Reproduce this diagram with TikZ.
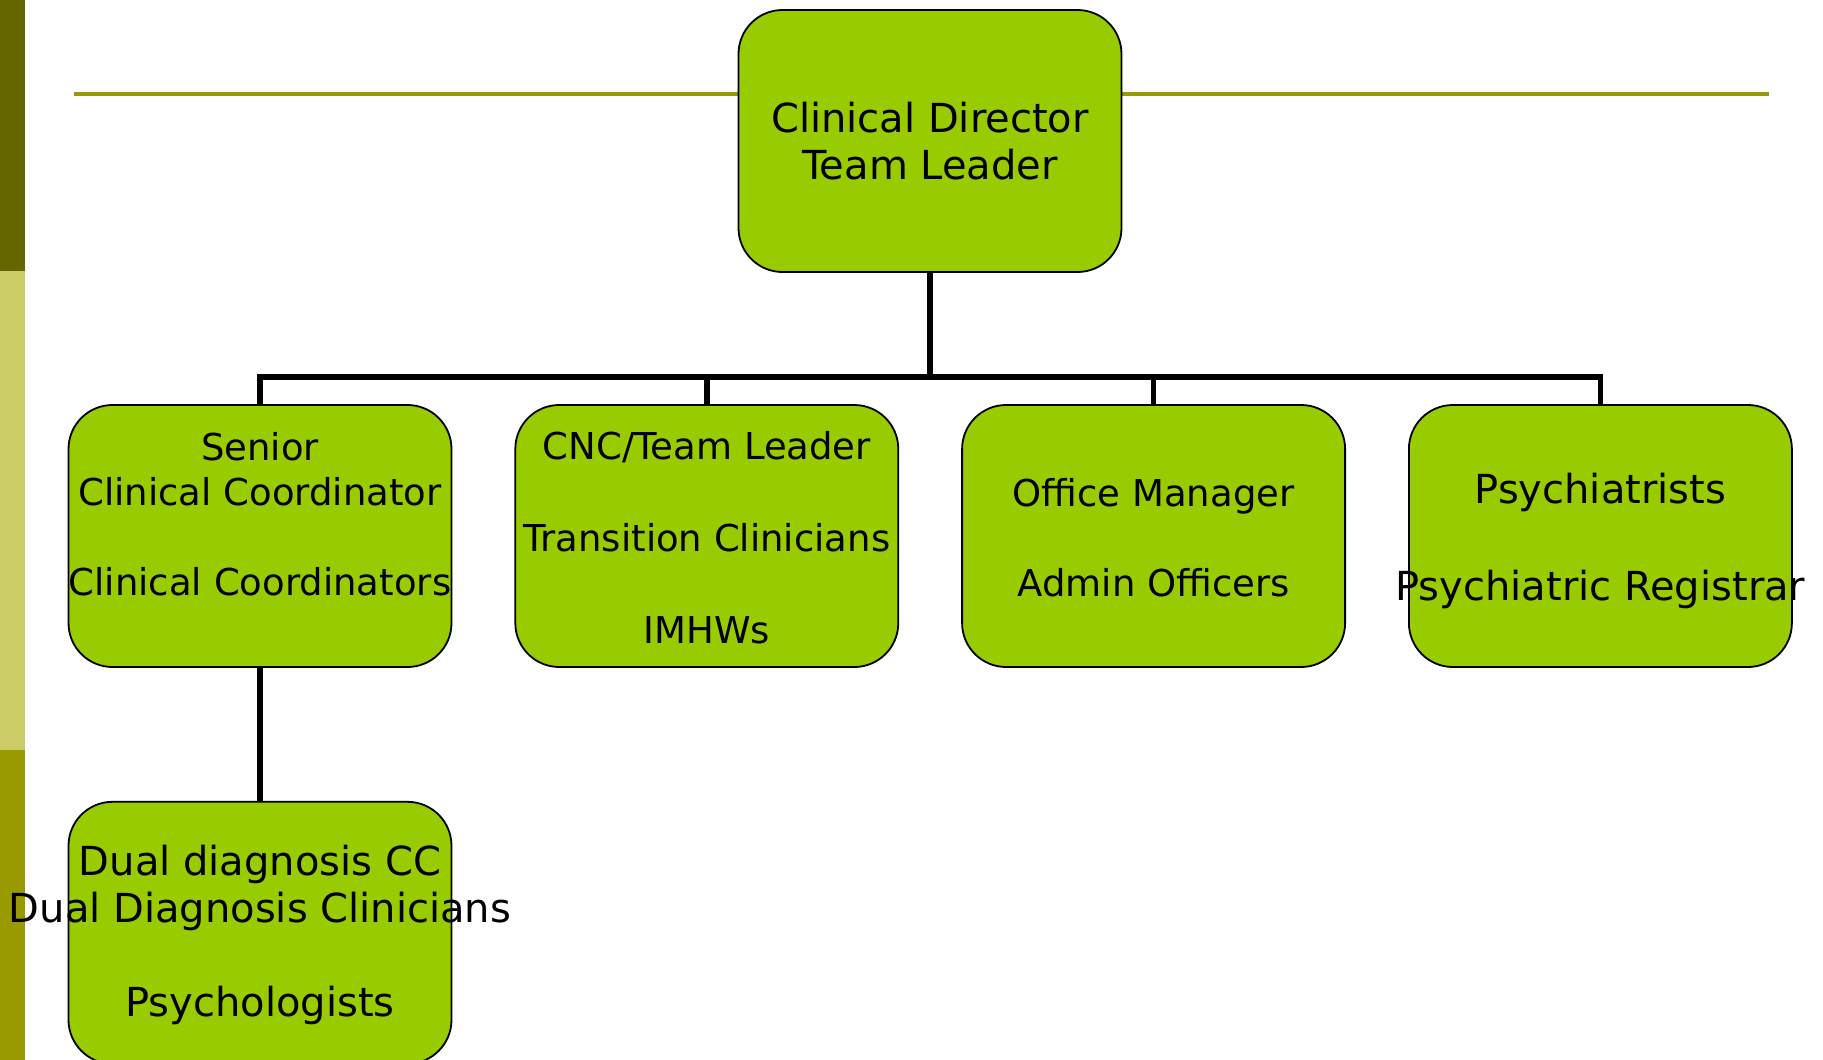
\documentclass[tikz,border=0pt]{standalone}
\usepackage{fontspec}
\setmainfont{DejaVu Sans}
\usetikzlibrary{positioning}

\definecolor{leafgreen}{HTML}{99CC00}
\definecolor{darkolive}{HTML}{666600}
\definecolor{paleolive}{HTML}{CCCC66}
\definecolor{midolive}{HTML}{999900}

\tikzset{
  unit/.style={draw, line width=1.8pt, fill=leafgreen, rounded corners=44pt,
    minimum width=383pt, minimum height=262pt, inner sep=0pt},
  unittext/.style={align=center, font=\fontsize{40}{47}\selectfont},
  smalltext/.style={align=center, font=\fontsize{37}{45}\selectfont},
  link/.style={line width=5.5pt},
}

\begin{document}
\begin{tikzpicture}[x=1pt,y=-1pt,node distance=62pt]
\useasboundingbox (0,0) rectangle (1823,1060);

% side strip and rule
\fill[darkolive] (0,0) rectangle (25,271);
\fill[paleolive] (0,271) rectangle (25,750);
\fill[midolive] (0,750) rectangle (25,1060);
\draw[midolive, line width=4pt] (74,94) -- (1769,94);

\node[unit, label={[unittext]center:{Clinical Director\\Team Leader}}] (director) at (930,141) {};

\node[unit, label={[smalltext,yshift=22pt]center:{Senior\\Clinical Coordinator\\[45pt]Clinical Coordinators}}] (senior) at (260,536) {};
\node[unit, label={[smalltext,yshift=-2pt]center:{CNC/Team Leader\\[47pt]Transition Clinicians\\[47pt]IMHWs}}] (cnc) [right=of senior] {};
\node[unit, label={[smalltext,yshift=-2pt]center:{Office Manager\\[45pt]Admin Officers}}] (admin) [right=of cnc] {};
\node[unit, label={[unittext,yshift=-5pt]center:{Psychiatrists\\[50pt]Psychiatric Registrar}}] (psych) [right=of admin] {};

\node[unit, label={[unittext,yshift=-2pt]center:{Dual diagnosis CC\\Dual Diagnosis Clinicians\\[47pt]Psychologists}}] (dual) [below=133pt of senior] {};

\coordinate (bus) at (930,377);
\draw[link] (director.south) -- (bus);
\draw[link] (senior.north) |- (bus) -| (psych.north);
\draw[link] (cnc.north) -- (cnc.north |- bus);
\draw[link] (admin.north) -- (admin.north |- bus);
\draw[link] (senior.south) -- (dual.north);
\end{tikzpicture}
\end{document}
